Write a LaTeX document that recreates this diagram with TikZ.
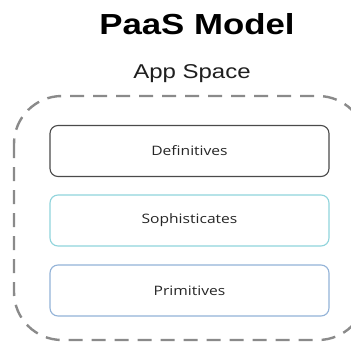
\documentclass[tikz,border=0pt]{standalone}
\usepackage{fontspec}
\setmainfont{Liberation Sans}
\newfontfamily\titlefont[FakeStretch=1.2]{Liberation Sans}
\newfontfamily\boxfont[FakeStretch=1.2]{Open Sans}
\definecolor{dashgray}{HTML}{8A8A8A}
\definecolor{defborder}{HTML}{4A4A4A}
\definecolor{sophborder}{HTML}{90D4DC}
\definecolor{primborder}{HTML}{93B3D8}
\definecolor{boxtext}{HTML}{262626}
\tikzset{
  layerbox/.style={draw, rounded corners=8pt, minimum width=279pt, minimum height=51pt,
    inner sep=0pt, font=\boxfont\fontsize{13}{15}\selectfont, text=boxtext, line width=1.1pt},
}
\begin{document}
\begin{tikzpicture}[x=1pt,y=-1pt]
\useasboundingbox (0,0) rectangle (351,345);
\fill[white] (0,0) rectangle (351,345);
\clip (0,0) rectangle (351,345);
\node[anchor=base, font=\titlefont\bfseries\fontsize{29}{33}\selectfont] (title) at (197,35) {PaaS Model};
\node[anchor=base, font=\titlefont\fontsize{20}{24}\selectfont, text=black!88] (space) at (192,79) {App Space};
\draw[dashgray, line width=2.4pt, dash pattern=on 14pt off 9pt, rounded corners=48pt] (14,96) rectangle (366,340);
\node[layerbox, draw=defborder] (def) at (189.5,151) {Definitives};
\node[layerbox, draw=sophborder] (soph) at (189.5,220.5) {Sophisticates};
\node[layerbox, draw=primborder] (prim) at (189.5,290.5) {Primitives};
\end{tikzpicture}
\end{document}
